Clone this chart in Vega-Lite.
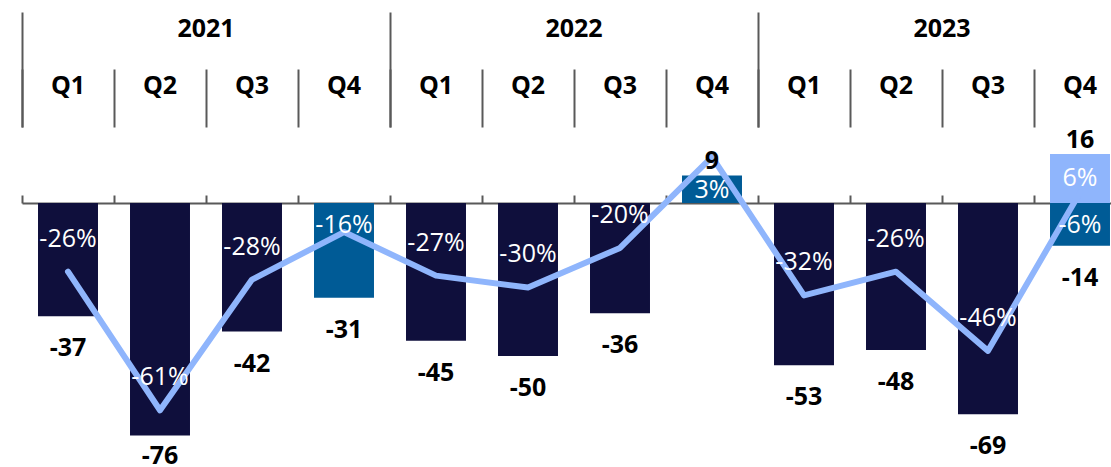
{
  "$schema": "https://vega.github.io/schema/vega-lite/v6.json",
  "width": 1089,
  "height": 340,
  "autosize": {"type": "none"},
  "padding": {"left": 22, "top": 127, "right": 0, "bottom": 0},
  "background": "white",
  "config": {
    "view": {"stroke": null},
    "font": "Open Sans",
    "locale": {"number": {"decimal": ".", "thousands": ",", "grouping": [3], "currency": ["", "%"], "minus": "-"}}
  },
  "data": {"values": [
    {"period": "2021 Q1", "year": "2021", "value": -37, "pct": -26, "type": "base"},
    {"period": "2021 Q2", "year": "2021", "value": -76, "pct": -61, "type": "base"},
    {"period": "2021 Q3", "year": "2021", "value": -42, "pct": -28, "type": "base"},
    {"period": "2021 Q4", "year": "2021", "value": -31, "pct": -16, "type": "q4"},
    {"period": "2022 Q1", "year": "2022", "value": -45, "pct": -27, "type": "base"},
    {"period": "2022 Q2", "year": "2022", "value": -50, "pct": -30, "type": "base"},
    {"period": "2022 Q3", "year": "2022", "value": -36, "pct": -20, "type": "base"},
    {"period": "2022 Q4", "year": "2022", "value": 9, "pct": 3, "type": "q4"},
    {"period": "2023 Q1", "year": "2023", "value": -53, "pct": -32, "type": "base"},
    {"period": "2023 Q2", "year": "2023", "value": -48, "pct": -26, "type": "base"},
    {"period": "2023 Q3", "year": "2023", "value": -69, "pct": -46, "type": "base"},
    {"period": "2023 Q4", "year": "2023", "value": 16, "pct": 6, "type": "q4pos"},
    {"period": "2023 Q4", "year": "2023", "value": -14, "pct": -6, "type": "q4"}
  ]},
  "layer": [
    {
      "mark": {"type": "bar", "width": {"band": 0.652}},
      "encoding": {
        "x": {"field": "period", "type": "nominal",
          "scale": {"type": "band", "range": [0, 1104], "padding": 0, "domain": ["2021 Q1","2021 Q2","2021 Q3","2021 Q4","2022 Q1","2022 Q2","2022 Q3","2022 Q4","2023 Q1","2023 Q2","2023 Q3","2023 Q4"]},
          "axis": {"orient": "top", "domain": false, "bandPosition": 0, "tickSize": 58, "tickColor": "#595959", "tickWidth": 2,
            "labelExpr": "slice(datum.label, 5)", "labelPadding": -16, "labelBaseline": "middle", "labelAngle": 0,
            "labelFontSize": 25, "labelFontWeight": "bold", "labelColor": "#000000", "labelFont": "Open Sans", "title": null, "labelOverlap": false}},
        "y": {"field": "value", "type": "quantitative", "stack": null, "scale": {"domain": [-86.27, 24.84], "nice": false}, "axis": null},
        "color": {"field": "type", "type": "nominal", "scale": {"domain": ["base", "q4", "q4pos"], "range": ["#0f0f3c", "#005b96", "#8fb5fc"]}, "legend": null}
      }
    },
    {
      "transform": [{"filter": "!(datum.period === '2023 Q4' && datum.value > 0)"}],
      "mark": {"type": "line", "color": "#8fb5fc", "strokeWidth": 6, "strokeCap": "round", "strokeJoin": "round"},
      "encoding": {
        "x": {"field": "period", "type": "nominal", "scale": {"type": "band", "range": [0, 1104], "padding": 0, "domain": ["2021 Q1","2021 Q2","2021 Q3","2021 Q4","2022 Q1","2022 Q2","2022 Q3","2022 Q4","2023 Q1","2023 Q2","2023 Q3","2023 Q4"]}, "axis": null},
        "y": {"field": "pct", "type": "quantitative", "scale": {"domain": [-75.33, 10.53], "nice": false}, "axis": null}
      }
    },
    {
      "transform": [{"filter": "datum.pct <= -20"}],
      "mark": {"type": "text", "color": "white", "fontSize": 25, "font": "Open Sans", "baseline": "middle", "dy": -33},
      "encoding": {
        "x": {"field": "period", "type": "nominal", "scale": {"type": "band", "range": [0, 1104], "padding": 0, "domain": ["2021 Q1","2021 Q2","2021 Q3","2021 Q4","2022 Q1","2022 Q2","2022 Q3","2022 Q4","2023 Q1","2023 Q2","2023 Q3","2023 Q4"]}, "axis": null},
        "y": {"field": "pct", "type": "quantitative", "scale": {"domain": [-75.33, 10.53], "nice": false}, "axis": null},
        "text": {"field": "pct", "type": "quantitative", "format": "$d"}
      }
    },
    {
      "transform": [{"filter": "datum.pct >= -6"}],
      "mark": {"type": "text", "color": "white", "fontSize": 25, "font": "Open Sans", "baseline": "middle", "dy": 33},
      "encoding": {
        "x": {"field": "period", "type": "nominal", "scale": {"type": "band", "range": [0, 1104], "padding": 0, "domain": ["2021 Q1","2021 Q2","2021 Q3","2021 Q4","2022 Q1","2022 Q2","2022 Q3","2022 Q4","2023 Q1","2023 Q2","2023 Q3","2023 Q4"]}, "axis": null},
        "y": {"field": "pct", "type": "quantitative", "scale": {"domain": [-75.33, 10.53], "nice": false}, "axis": null},
        "text": {"field": "pct", "type": "quantitative", "format": "$d"}
      }
    },
    {
      "transform": [{"filter": "datum.pct === -16"}],
      "mark": {"type": "text", "color": "white", "fontSize": 25, "font": "Open Sans", "baseline": "middle", "dy": -7},
      "encoding": {
        "x": {"field": "period", "type": "nominal", "scale": {"type": "band", "range": [0, 1104], "padding": 0, "domain": ["2021 Q1","2021 Q2","2021 Q3","2021 Q4","2022 Q1","2022 Q2","2022 Q3","2022 Q4","2023 Q1","2023 Q2","2023 Q3","2023 Q4"]}, "axis": null},
        "y": {"field": "pct", "type": "quantitative", "scale": {"domain": [-75.33, 10.53], "nice": false}, "axis": null},
        "text": {"field": "pct", "type": "quantitative", "format": "$d"}
      }
    },
    {
      "transform": [{"filter": "datum.value < 0 && datum.value > -70"}],
      "mark": {"type": "text", "color": "black", "fontSize": 25, "fontWeight": "bold", "font": "Open Sans", "baseline": "middle", "dy": 32},
      "encoding": {
        "x": {"field": "period", "type": "nominal", "scale": {"type": "band", "range": [0, 1104], "padding": 0, "domain": ["2021 Q1","2021 Q2","2021 Q3","2021 Q4","2022 Q1","2022 Q2","2022 Q3","2022 Q4","2023 Q1","2023 Q2","2023 Q3","2023 Q4"]}, "axis": null},
        "y": {"field": "value", "type": "quantitative", "scale": {"domain": [-86.27, 24.84], "nice": false}, "axis": null},
        "text": {"field": "value", "type": "quantitative", "format": "d"}
      }
    },
    {
      "transform": [{"filter": "datum.value <= -70"}],
      "mark": {"type": "text", "color": "black", "fontSize": 25, "fontWeight": "bold", "font": "Open Sans", "baseline": "middle", "dy": 20},
      "encoding": {
        "x": {"field": "period", "type": "nominal", "scale": {"type": "band", "range": [0, 1104], "padding": 0, "domain": ["2021 Q1","2021 Q2","2021 Q3","2021 Q4","2022 Q1","2022 Q2","2022 Q3","2022 Q4","2023 Q1","2023 Q2","2023 Q3","2023 Q4"]}, "axis": null},
        "y": {"field": "value", "type": "quantitative", "scale": {"domain": [-86.27, 24.84], "nice": false}, "axis": null},
        "text": {"field": "value", "type": "quantitative", "format": "d"}
      }
    },
    {
      "transform": [{"filter": "datum.value > 0"}],
      "mark": {"type": "text", "color": "black", "fontSize": 25, "fontWeight": "bold", "font": "Open Sans", "baseline": "middle", "dy": -14},
      "encoding": {
        "x": {"field": "period", "type": "nominal", "scale": {"type": "band", "range": [0, 1104], "padding": 0, "domain": ["2021 Q1","2021 Q2","2021 Q3","2021 Q4","2022 Q1","2022 Q2","2022 Q3","2022 Q4","2023 Q1","2023 Q2","2023 Q3","2023 Q4"]}, "axis": null},
        "y": {"field": "value", "type": "quantitative", "scale": {"domain": [-86.27, 24.84], "nice": false}, "axis": null},
        "text": {"field": "value", "type": "quantitative", "format": "d"}
      }
    },
    {
      "mark": {"type": "tick", "opacity": 0},
      "encoding": {
        "x": {"field": "year", "type": "nominal",
          "scale": {"type": "band", "range": [0, 1104], "padding": 0, "domain": ["2021", "2022", "2023"]},
          "axis": {"orient": "top", "domain": false, "bandPosition": 0, "tickSize": 115, "tickColor": "#595959", "tickWidth": 2,
            "labelPadding": -16, "labelBaseline": "middle", "labelAngle": 0, "labelFontSize": 25, "labelFontWeight": "bold",
            "labelColor": "#000000", "labelFont": "Open Sans", "title": null, "labelOverlap": false}}
      }
    },
    {
      "mark": {"type": "tick", "opacity": 0},
      "encoding": {
        "x": {"field": "period", "type": "nominal",
          "scale": {"type": "band", "range": [0, 1104], "padding": 0, "domain": ["2021 Q1","2021 Q2","2021 Q3","2021 Q4","2022 Q1","2022 Q2","2022 Q3","2022 Q4","2023 Q1","2023 Q2","2023 Q3","2023 Q4"]},
          "axis": {"orient": "bottom", "offset": -264, "domain": true, "domainColor": "#595959", "domainWidth": 2,
            "bandPosition": 0, "tickSize": -8, "tickColor": "#595959", "tickWidth": 2, "labels": false, "title": null}}
      }
    }
  ],
  "resolve": {"scale": {"x": "independent", "y": "independent"}, "axis": {"x": "independent", "y": "independent"}}
}
